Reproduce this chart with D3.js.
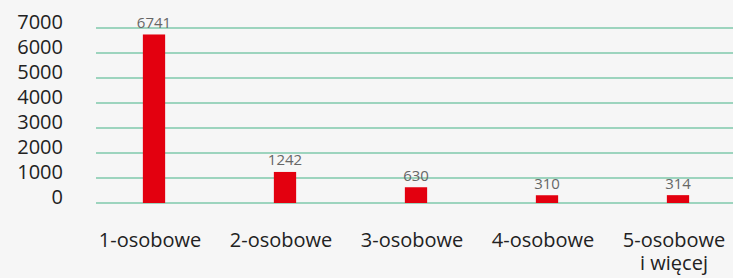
<!DOCTYPE html>
<html><head><meta charset="utf-8">
<script src="https://cdn.jsdelivr.net/npm/d3@7"></script>
<style>
html,body{margin:0;padding:0;background:#f6f6f6;}
svg{display:block;font-family:"Open Sans","Noto Sans",sans-serif;}
</style></head><body>
<svg id="c" width="733" height="278"></svg>
<script>
const categories = [["1-osobowe"],["2-osobowe"],["3-osobowe"],["4-osobowe"],["5-osobowe","i więcej"]];
const values = [6741, 1242, 630, 310, 314];
const yTicks = [0,1000,2000,3000,4000,5000,6000,7000];

const svg = d3.select("#c");
const y = d3.scaleLinear().domain([0,7000]).range([203,28]);
const x = d3.scaleBand().domain(categories.map((d,i)=>i)).range([88.5,743.5]).paddingInner(0.83).paddingOuter(0.415);

// grid
svg.append("g").selectAll("line").data(yTicks).join("line")
  .attr("x1",96).attr("x2",733)
  .attr("y1",d=>y(d)).attr("y2",d=>y(d))
  .attr("stroke","#9dd4be").attr("stroke-width",2);

// y labels
svg.append("g").selectAll("text").data(yTicks).join("text")
  .attr("x",63).attr("y",d=>y(d)+0.5)
  .attr("text-anchor","end").attr("font-size",20).attr("fill","#222")
  .text(d=>d);

// bars
svg.append("g").selectAll("rect").data(values).join("rect")
  .attr("x",(d,i)=>x(i)).attr("width",x.bandwidth())
  .attr("y",d=>y(d)).attr("height",d=>y(0)-y(d))
  .attr("fill","#e3000f");

// value labels
svg.append("g").selectAll("text").data(values).join("text")
  .attr("x",(d,i)=>x(i)+x.bandwidth()/2).attr("y",d=>y(d)-6.5)
  .attr("text-anchor","middle").attr("font-size",15).attr("fill","#666")
  .text(d=>d);

// x labels
const xl = svg.append("g").selectAll("text").data(categories).join("text")
  .attr("text-anchor","middle").attr("font-size",20).attr("fill","#222")
  .attr("x",(d,i)=>x(i)+x.bandwidth()/2-4).attr("y",247);
xl.selectAll("tspan").data(d=>d).join("tspan")
  .attr("x",function(){return this.parentNode.getAttribute("x");})
  .attr("dy",(d,j)=>j?23:0).text(d=>d);
</script></body></html>
